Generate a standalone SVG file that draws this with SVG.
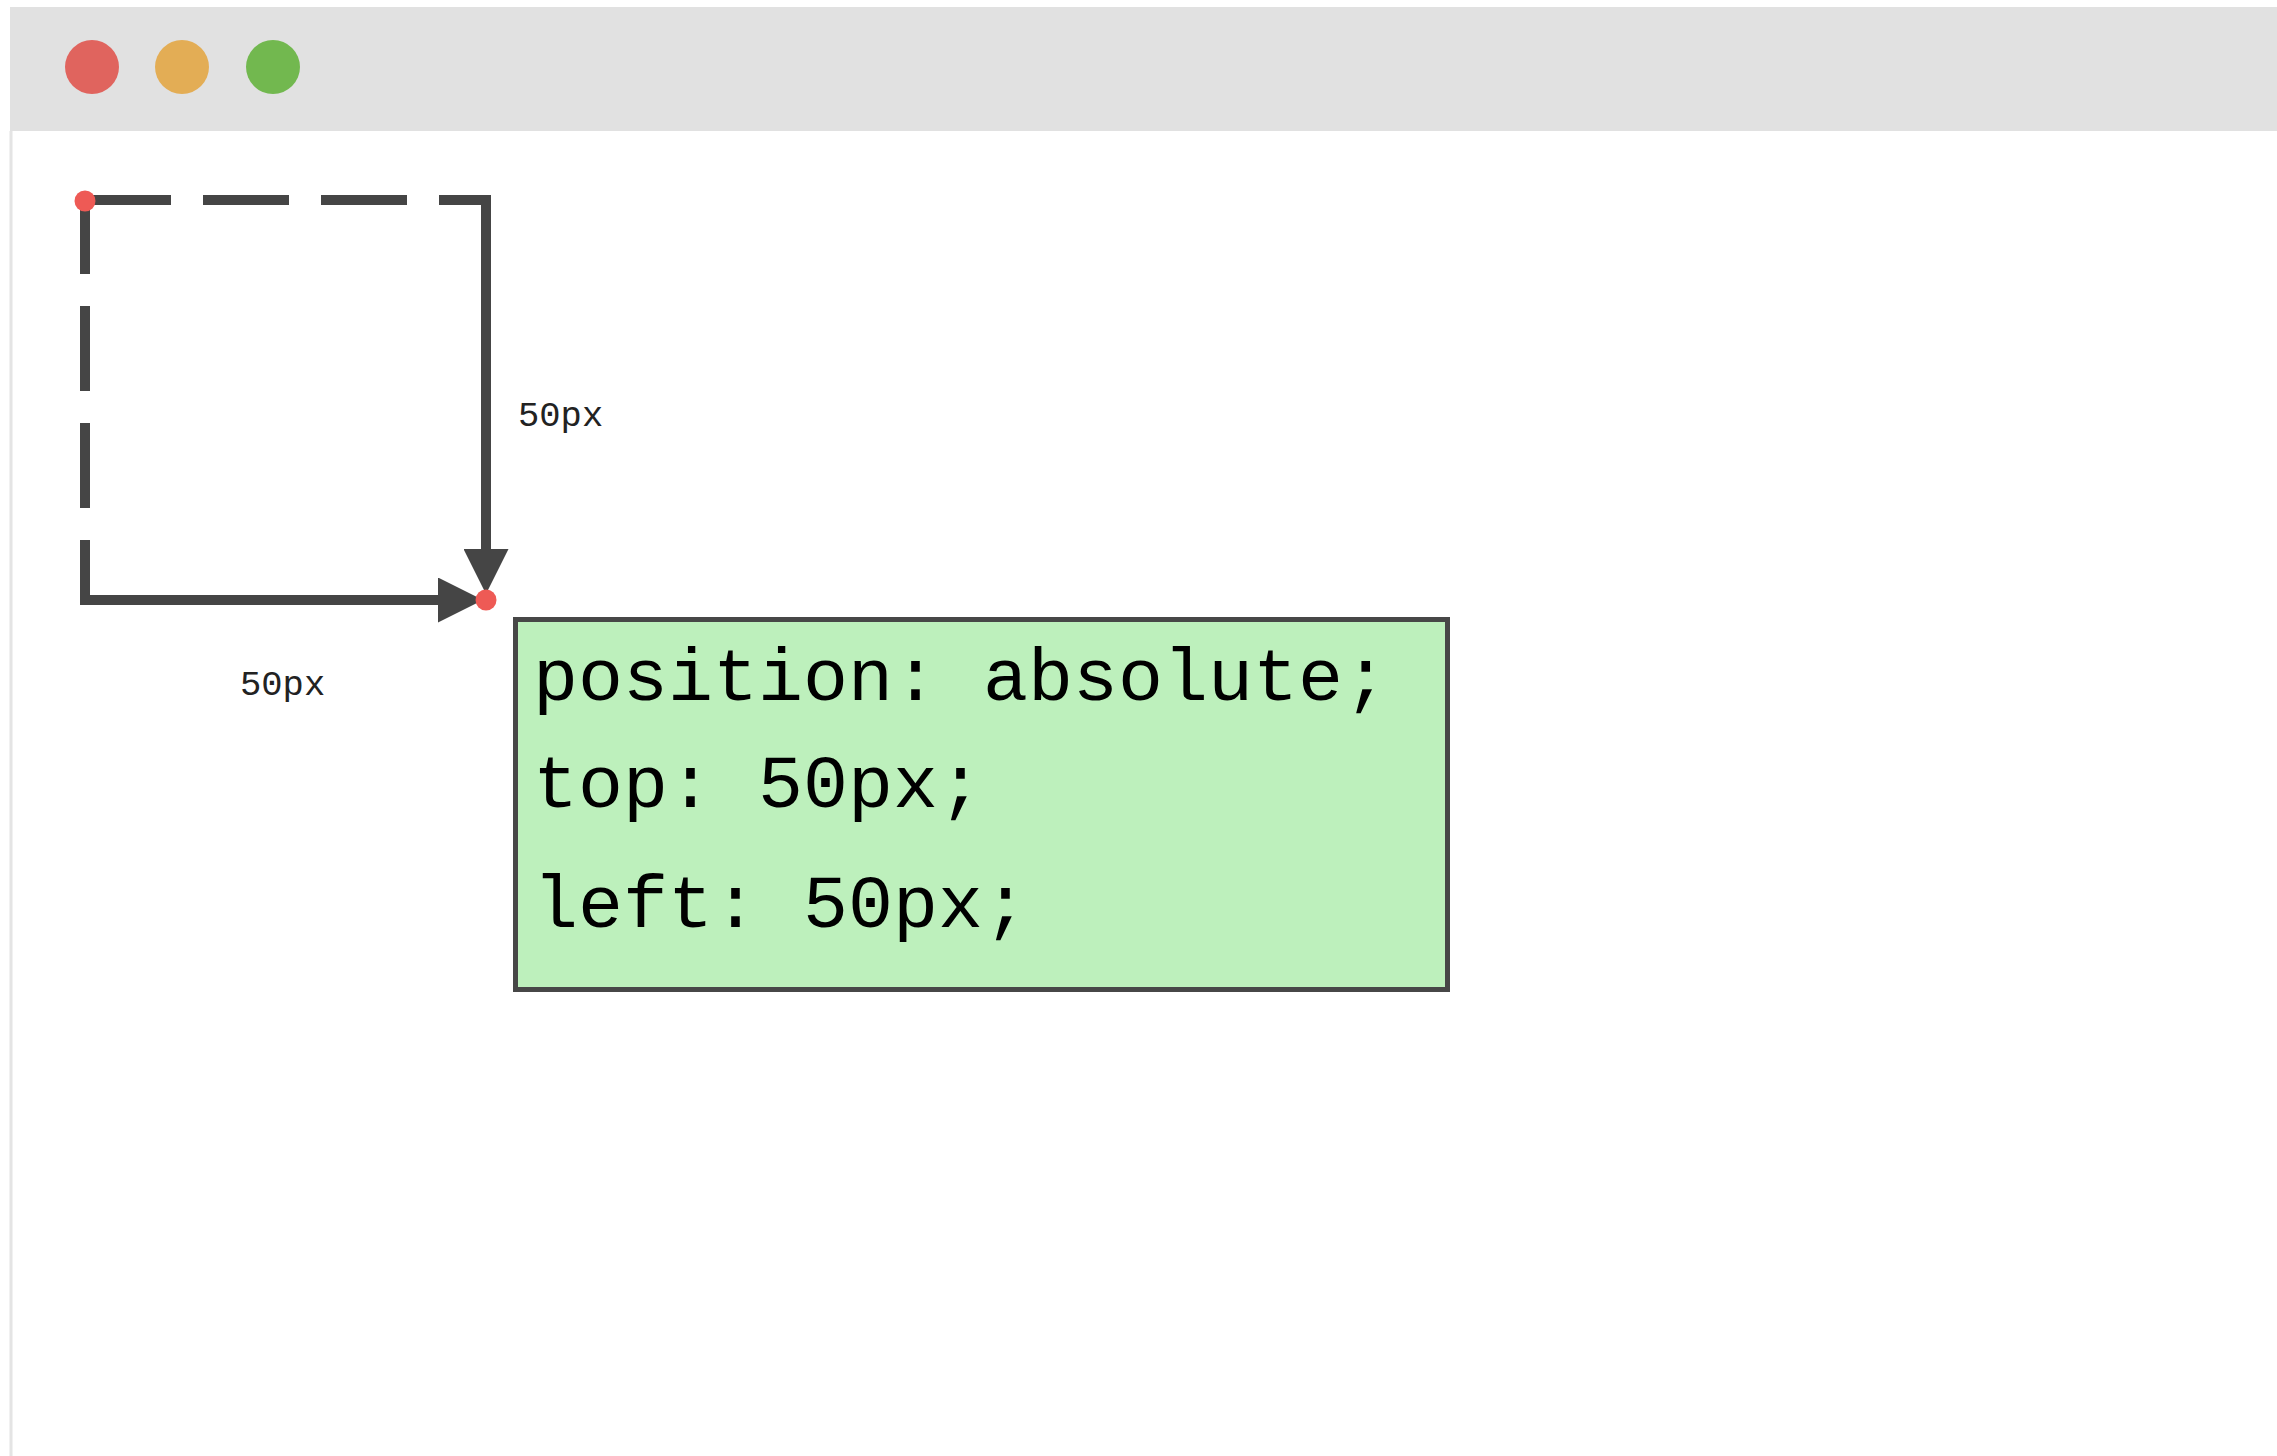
<svg xmlns="http://www.w3.org/2000/svg" width="2277" height="1456" viewBox="0 0 2277 1456">
  <style>
    .line { stroke: #454545; stroke-width: 10; fill: none; }
    .dash { stroke-dasharray: 86 32; }
    .dot { fill: #ee5a55; }
    .code { font-family: "Liberation Mono", "Courier New", monospace; font-size: 75px; fill: #000; }
    .label { font-family: "Liberation Mono", "Courier New", monospace; font-size: 35.5px; fill: #222; }
  </style>
  <defs>
    <marker id="arrow" markerUnits="userSpaceOnUse" markerWidth="45" markerHeight="45" viewBox="0 0 45 45" refX="12" refY="22.5" orient="auto">
      <path d="M0,0 L45,22.5 L0,45 z" fill="#454545"/>
    </marker>
  </defs>
  <rect width="2277" height="1456" fill="#ffffff"/>
  <g id="window">
    <rect x="10" y="7" width="2267" height="124" fill="#e1e1e1"/>
    <line x1="11" y1="131" x2="11" y2="1456" stroke="#e4e4e4" stroke-width="3"/>
    <circle cx="92" cy="67" r="27" fill="#e0645e"/>
    <circle cx="182" cy="67" r="27" fill="#e3ad55"/>
    <circle cx="273" cy="67" r="27" fill="#72b84f"/>
  </g>
  <g id="connectors">
    <line class="line dash" x1="85" y1="200" x2="491" y2="200"/>
    <line class="line" x1="85" y1="201" x2="85" y2="605" stroke-dasharray="85 32" stroke-dashoffset="12"/>
    <line class="line" x1="486" y1="195" x2="486" y2="561" marker-end="url(#arrow)"/>
    <line class="line" x1="80" y1="600" x2="450" y2="600" marker-end="url(#arrow)"/>
  </g>
  <g id="origin-dot">
    <circle class="dot" cx="85" cy="201" r="10.5"/>
  </g>
  <g id="target-dot">
    <circle class="dot" cx="486" cy="600" r="10.5"/>
  </g>
  <g id="label-top">
    <text class="label" x="518" y="426">50px</text>
  </g>
  <g id="label-left">
    <text class="label" x="240" y="695">50px</text>
  </g>
  <g id="box">
    <rect x="515.5" y="619.5" width="932" height="370" fill="#bdf0bc" stroke="#474747" stroke-width="5"/>
    <text class="code" x="533" y="700">position: absolute;</text>
    <text class="code" x="533" y="807">top: 50px;</text>
    <text class="code" x="533" y="927">left: 50px;</text>
  </g>
</svg>
